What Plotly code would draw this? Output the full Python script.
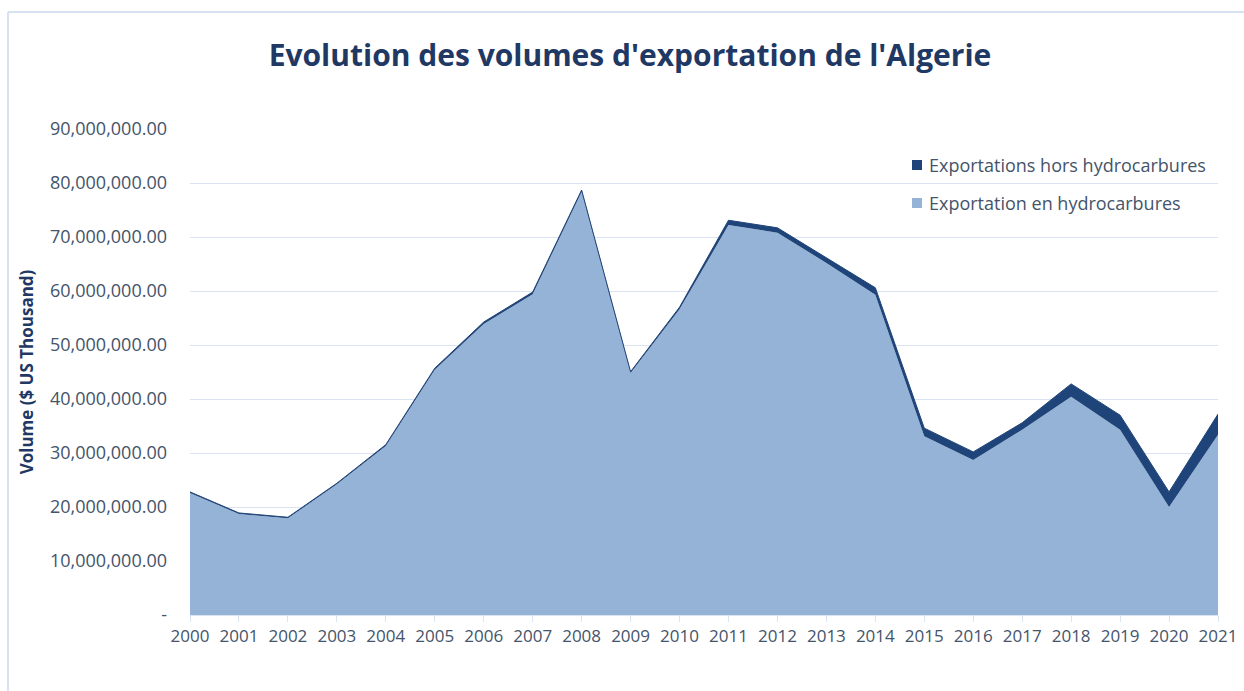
import plotly.graph_objects as go

years = list(range(2000, 2022))
hydrocarbures = [22.6, 18.7, 17.9, 24.2, 31.3, 45.4, 53.9, 59.4, 78.4, 44.8, 56.6,
                 72.2, 70.8, 65.2, 59.3, 33.1, 28.7, 34.3, 40.4, 34.3, 20.0, 33.4]
hors_hydrocarbures = [0.2, 0.2, 0.2, 0.2, 0.25, 0.3, 0.35, 0.4, 0.3, 0.25, 0.4,
                      0.9, 0.9, 0.9, 1.3, 1.5, 1.5, 1.3, 2.4, 2.7, 2.8, 3.8]
scale = 1_000_000
y_tickvals = [0, 10, 20, 30, 40, 50, 60, 70, 80, 90]
y_ticktext = ["-", "10,000,000.00", "20,000,000.00", "30,000,000.00", "40,000,000.00",
              "50,000,000.00", "60,000,000.00", "70,000,000.00", "80,000,000.00",
              "90,000,000.00"]

DARK = "#1F4479"
LIGHT = "#95B3D7"
TXT = "#44546A"
TITLE = "#1F3864"
GRID = "#D9E3F1"
FONT = "Open Sans"

fig = go.Figure()
fig.add_trace(go.Scatter(
    x=years, y=[v * scale for v in hydrocarbures], name="Exportation en hydrocarbures",
    stackgroup="one", mode="lines", line=dict(width=0, color=LIGHT),
    fillcolor=LIGHT, showlegend=False))
fig.add_trace(go.Scatter(
    x=years, y=[v * scale for v in hors_hydrocarbures], name="Exportations hors hydrocarbures",
    stackgroup="one", mode="lines", line=dict(width=1, color=DARK),
    fillcolor=DARK, showlegend=False))

L, R, T, B = 190, 26, 129, 76
W, H = 1244, 691
pw, ph = W - L - R, H - T - B

def px_x(p):
    return (p - L) / pw

def px_y(p):
    return (H - B - p) / ph

# legend drawn as square markers + text (like the reference)
legend_items = [("Exportations hors hydrocarbures", DARK, 165),
                ("Exportation en hydrocarbures", LIGHT, 203)]
annotations = []
shapes = [
    dict(type="line", xref="paper", yref="paper", x0=px_x(8), x1=px_x(W),
         y0=px_y(12), y1=px_y(12), line=dict(color="#C9D8EC", width=1.5)),
    dict(type="line", xref="paper", yref="paper", x0=px_x(8), x1=px_x(8),
         y0=px_y(12), y1=px_y(H), line=dict(color="#C9D8EC", width=1.5)),
]
for name, col, ypix in legend_items:
    shapes.append(dict(type="rect", xref="paper", yref="paper",
                       x0=px_x(912), x1=px_x(922), y0=px_y(ypix - 5), y1=px_y(ypix + 5),
                       fillcolor=col, line=dict(width=0)))
    annotations.append(dict(text=name, xref="paper", yref="paper", x=px_x(927), y=px_y(ypix),
                            xanchor="left", yanchor="middle", showarrow=False,
                            font=dict(family=FONT, size=18, color=TXT)))

fig.update_layout(
    width=W, height=H, autosize=False,
    margin=dict(l=L, r=R, t=T, b=B, autoexpand=False),
    paper_bgcolor="white", plot_bgcolor="white",
    font=dict(family=FONT, color=TXT, size=16),
    title=dict(text="<b>Evolution des volumes d'exportation de l'Algerie</b>",
               x=630 / W, xref="container", xanchor="center",
               y=1 - 55 / H, yref="container", yanchor="middle",
               font=dict(family=FONT, size=30, color=TITLE)),
    showlegend=False,
    xaxis=dict(range=[2000, 2021], tickmode="array", tickvals=years,
               ticktext=[str(y) for y in years], automargin=False,
               showgrid=False, zeroline=False, showline=True, linecolor=GRID,
               linewidth=1, ticks="outside", ticklen=6, tickcolor=GRID,
               tickfont=dict(family=FONT, size=17, color=TXT)),
    yaxis=dict(range=[0, 90 * scale], tickmode="array", automargin=False,
               tickvals=[v * scale for v in y_tickvals], ticktext=y_ticktext,
               showgrid=True, gridcolor=GRID, gridwidth=1, zeroline=False,
               showline=False, ticks="", ticklabelstandoff=22,
               tickfont=dict(family=FONT, size=18, color=TXT),
               title=dict(text="<b>Volume ($ US Thousand)</b>", standoff=12,
                          font=dict(family=FONT, size=17, color=TITLE))),
    shapes=shapes,
    annotations=annotations,
)

fig.write_html("out.html", config={"displayModeBar": False},
               post_script="document.body.style.margin='0';")
